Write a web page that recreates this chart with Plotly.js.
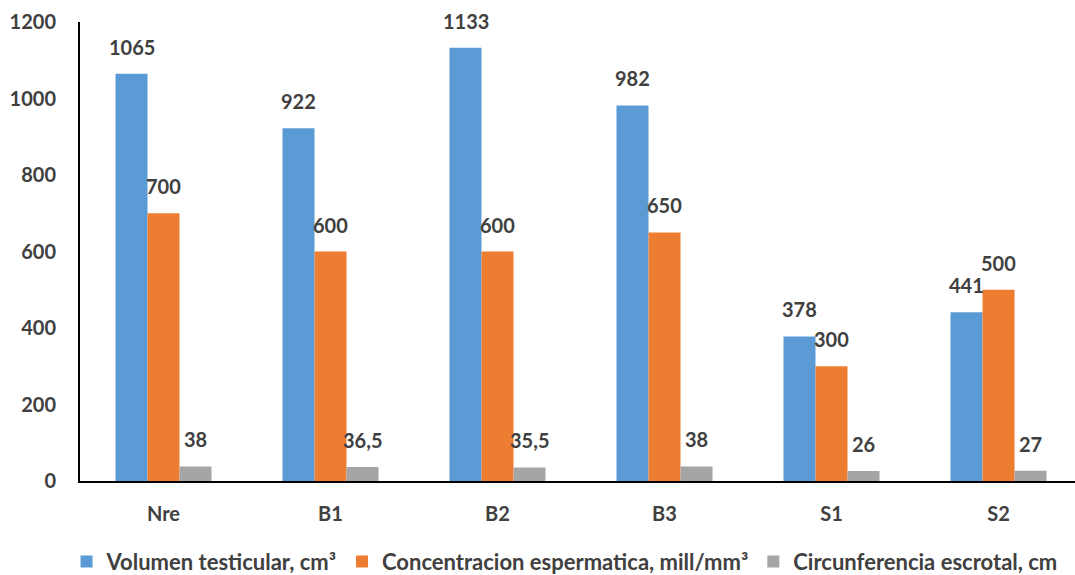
<!DOCTYPE html>
<html><head><meta charset="utf-8">
<script src="https://cdn.plot.ly/plotly-3.0.1.min.js"></script>
<style>body{margin:0;background:#fff}#c{width:1075px;height:575px}</style>
</head><body><div id="c"></div>
<script>
const categories = ["Nre", "B1", "B2", "B3", "S1", "S2"];
const volumen = [1065, 922, 1133, 982, 378, 441];
const concentracion = [700, 600, 600, 650, 300, 500];
const circunferencia = [38, 36.5, 35.5, 38, 26, 27];
const seriesNames = ["Volumen testicular, cm³", "Concentracion espermatica, mill/mm³", "Circunferencia escrotal, cm"];
const colors = ["#5B9BD5", "#ED7D31", "#A5A5A5"];
const fmt = v => String(v).replace(".", ",");

const fam = "Lato, 'Open Sans', sans-serif";
const font = {family: fam, size: 20, color: "#404040", weight: 700};
const legFont = {family: fam, size: 22, color: "#404040", weight: 700};
const all = [volumen, concentracion, circunferencia];
const traces = all.map((vals, k) => ({
  type: "bar", x: categories, y: vals, name: seriesNames[k],
  marker: {color: colors[k]}, hoverinfo: "none"
}));
const annotations = [];
const shifts = [-32, 0, 32];
all.forEach((vals, k) => vals.forEach((v, i) => annotations.push({
  x: categories[i], y: v, text: "<b>" + fmt(v) + "</b>", showarrow: false,
  xshift: shifts[k], yshift: 27, font: font
})));

Plotly.newPlot("c", traces, {
  width: 1075, height: 575,
  margin: {l: 80, r: 0, t: 22, b: 94, autoexpand: false},
  paper_bgcolor: "#fff", plot_bgcolor: "#fff",
  barmode: "group", bargap: 0.425, bargroupgap: 0,
  font: font,
  xaxis: {type: "category", range: [-0.5, 5.458], showline: true, linecolor: "#000", linewidth: 2,
          ticks: "", tickfont: font, ticklabelstandoff: 14, fixedrange: true},
  yaxis: {range: [0, 1200], dtick: 200, showline: true, linecolor: "#000", linewidth: 2,
          showgrid: false, zeroline: false, ticks: "", tickfont: font, ticklabelstandoff: 18},
  legend: {orientation: "h", x: 0.487, xanchor: "center", y: -0.176, yanchor: "middle",
           font: legFont, itemwidth: 30, tracegroupgap: 0},
  annotations: annotations,
  showlegend: true
}, {staticPlot: true});
</script></body></html>
